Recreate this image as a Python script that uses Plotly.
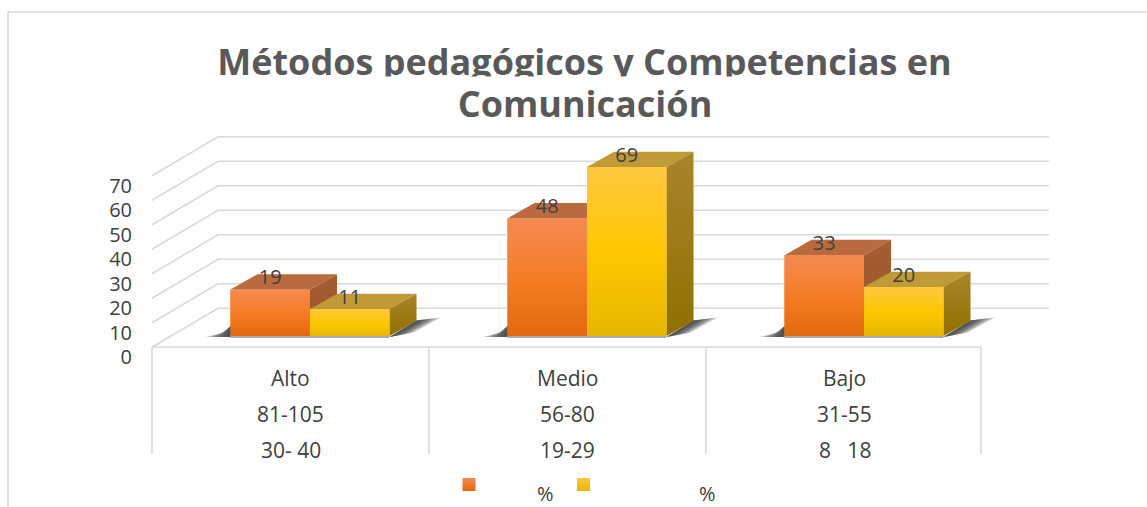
import plotly.graph_objects as go

# ---------- data ----------
categories = ["Alto", "Medio", "Bajo"]
range_a = ["81-105", "56-80", "31-55"]
range_b = ["30- 40", "19-29", "8   18"]
series_1 = [19, 48, 33]
series_2 = [11, 69, 20]
y_ticks = [0, 10, 20, 30, 40, 50, 60, 70]
title_line_1 = "Métodos pedagógicos y Competencias en"
title_line_2 = "Comunicación"
legend_text = "%"

# ---------- layout constants ----------
W, H = 1147, 507
PX_CAT, PX_VAL = 277.0, 2.45
X0_PX, Y0_PX = 310.0, 336.0      # first group's centre, front plane of the bars
FONT = "Open Sans"
TXT = "#404040"
GRID = "#D9D9D9"
BAR_W = 79.5 / PX_CAT
DX, DY = 27 / PX_CAT, 15.3 / PX_VAL


def ux(px):
    return (px - X0_PX) / PX_CAT


def vy(py):
    return (Y0_PX - py) / PX_VAL


def cat_edge(i):
    return i - 0.5 - 19.5 / PX_CAT


fig = go.Figure()

# back wall, side wall and floor lines
wall_x, wall_y = [], []
back_offset = vy(308.3)
wall_dx, wall_dy = 66 / PX_CAT, 39 / PX_VAL
for t in y_ticks:
    v = t + back_offset
    wall_x += [ux(152), ux(218), ux(1049), None]
    wall_y += [v - wall_dy, v, v, None]
fig.add_trace(go.Scatter(x=wall_x, y=wall_y, mode="lines", line=dict(color=GRID, width=1.6),
                         showlegend=False, hoverinfo="skip"))

table_x = [cat_edge(0), cat_edge(3) - 2 / PX_CAT, None]
table_y = [vy(347), vy(347), None]
for i in range(4):
    e = cat_edge(i) - (2 / PX_CAT if i == 3 else 0)
    table_x += [e, e, None]
    table_y += [vy(347), vy(454), None]
fig.add_trace(go.Scatter(x=table_x, y=table_y, mode="lines", line=dict(color=GRID, width=1.6),
                         showlegend=False, hoverinfo="skip"))

# real bars, for both series
ORANGE_SCALE = [[0, "#E3690F"], [0.45, "#F57B22"], [1, "#F48B52"]]
YELLOW_SCALE = [[0, "#E6B600"], [0.5, "#FFC800"], [1, "#FFC73F"]]
fig.add_trace(go.Bar(x=[0, 1, 2], y=series_1, name="%", marker=dict(color="#F57B22", line=dict(width=0)),
                     showlegend=False, hoverinfo="skip"))
fig.add_trace(go.Bar(x=[0, 1, 2], y=series_2, name="%", marker=dict(color="#FFC800", line=dict(width=0)),
                     showlegend=False, hoverinfo="skip"))


def poly(xs, ys, **kw):
    fig.add_trace(go.Scatter(x=xs + xs[:1], y=ys + ys[:1], mode="lines", fill="toself",
                             line=dict(width=0), showlegend=False, hoverinfo="skip", **kw))


# soft floor shadows beside each group: stacked translucent layers
SHADOW = "rgba(50,50,50,0.27)"
for i in range(3):
    left = i - BAR_W
    right = i + BAR_W
    for e in (5, 9, 13, 17, 21, 25):
        poly([left, left, left - e * 0.35 / PX_CAT, left - e / PX_CAT],
             [vy(337), vy(326), vy(328 + e * 0.2), vy(337)],
             fillcolor=SHADOW)
    for e in (5, 10, 15, 20, 25, 30):
        poly([right, right + 27 / PX_CAT, right + (27 + e * 0.8) / PX_CAT, right + e * 0.8 / PX_CAT],
             [vy(337), vy(320.5), vy(320.5 - e * 0.1), vy(337 - e * 0.15)],
             fillcolor=SHADOW)
    fig.add_trace(go.Scatter(x=[left, right], y=[vy(337), vy(337)], mode="lines",
                             line=dict(color="#8C8C8C", width=1.5), showlegend=False, hoverinfo="skip"))

# 3-D faces: top, right side, then the front with its gradient
for i in range(3):
    for s, (vals, top, side, front) in enumerate([
        (series_1, "#B96A3F", [[0, "#9A5425"], [1, "#A55E34"]], ORANGE_SCALE),
        (series_2, "#BF9A36", [[0, "#907000"], [1, "#A9852A"]], YELLOW_SCALE),
    ]):
        v = vals[i]
        a = i - BAR_W + s * BAR_W
        b = a + BAR_W
        poly([a, b, b + DX, a + DX], [v, v, v + DY, v + DY], fillcolor=top)
        poly([b, b + DX, b + DX, b], [0, DY, v + DY, v],
             fillgradient=dict(type="vertical", colorscale=side))
        poly([a, b, b, a], [0, 0, v, v],
             fillgradient=dict(type="vertical", colorscale=front))

# data labels, above every face
label_x = [i - BAR_W / 2 for i in range(3)] + [i + BAR_W / 2 for i in range(3)]
label_y = series_1 + series_2
fig.add_trace(go.Scatter(x=label_x, y=label_y, mode="text", text=[str(v) for v in label_y],
                         textposition="top center", textfont=dict(family=FONT, size=20, color=TXT),
                         showlegend=False, hoverinfo="skip", cliponaxis=False))

# legend keys
for px_l, scale_top, scale_bot in [(469, "#F48B52", "#E3690F"), (583.5, "#FFC73F", "#E6B600")]:
    fig.add_trace(go.Scatter(x=[ux(px_l)], y=[vy(484.5)], mode="markers",
                             marker=dict(symbol="square", size=13, color=scale_top,
                                         gradient=dict(type="vertical", color=scale_bot), line=dict(width=0)),
                             showlegend=False, hoverinfo="skip"))

# annotations
ann = []
# the second title line has a white box that trims the first line's descenders, as in the reference
ann.append(dict(xref="paper", yref="paper", x=584.5 / W, y=1 - 103 / H, xanchor="center", yanchor="middle",
                text=title_line_2, showarrow=False, width=780, height=52, bgcolor="white", borderpad=0,
                font=dict(family=FONT, size=36, color="#595959", weight="bold")))
for rows, py in [(categories, 378), (range_a, 414), (range_b, 450)]:
    for i, t in enumerate(rows):
        ann.append(dict(xref="x", yref="y", x=i - 19.5 / PX_CAT, y=vy(py), text=t, showarrow=False,
                        xanchor="center", yanchor="middle", font=dict(family=FONT, size=21, color=TXT)))
for px in (545, 707):
    ann.append(dict(xref="x", yref="y", x=ux(px), y=vy(493), text=legend_text, showarrow=False,
                    xanchor="center", yanchor="middle", font=dict(family=FONT, size=20, color=TXT)))

frame = dict(type="line", line=dict(color=GRID, width=1.6), xref="paper", yref="paper", layer="below")
shapes = [
    dict(frame, x0=8 / W, x1=1, y0=1 - 12 / H, y1=1 - 12 / H),
    dict(frame, x0=8 / W, x1=8 / W, y0=1 - 12 / H, y1=0),
]

LABEL_ZERO_PX = 357.0
fig.update_layout(
    width=W, height=H, autosize=False,
    margin=dict(l=0, r=0, t=0, b=0),
    paper_bgcolor="white", plot_bgcolor="white",
    barmode="group", bargap=1 - 2 * BAR_W, bargroupgap=0,
    title=dict(text=title_line_1, x=584.5 / W, xanchor="center", xref="paper",
               y=1 - 62 / H, yanchor="middle", yref="paper",
               font=dict(family=FONT, size=36, color="#595959", weight="bold")),
    xaxis=dict(range=[ux(0), ux(W)], visible=False, fixedrange=True),
    yaxis=dict(range=[vy(H), vy(0)], visible=False, fixedrange=True),
    yaxis2=dict(overlaying="y", side="left", anchor="free", position=132 / W,
                range=[(LABEL_ZERO_PX - H) / 2.443, LABEL_ZERO_PX / 2.443],
                tickvals=y_ticks, ticks="", showgrid=False, zeroline=False, showline=False,
                tickfont=dict(family=FONT, size=20, color=TXT), fixedrange=True),
    annotations=ann, shapes=shapes,
)
# attaches the tick axis to the plot without drawing anything
fig.add_trace(go.Scatter(x=[0, 1, 2], y=series_1, yaxis="y2", mode="none", showlegend=False, hoverinfo="skip"))

fig.write_html("out.html", config=dict(displayModeBar=False),
               post_script="document.body.style.margin='0';document.body.style.overflow='hidden';")
